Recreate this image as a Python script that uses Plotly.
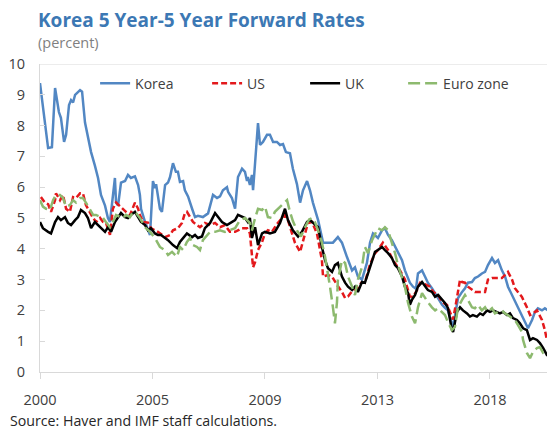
import plotly.graph_objects as go

# observation index (50 obs between labelled ticks)
TICK_POS = [0, 50, 100, 150, 200]
TICK_TEXT = ["2000", "2005", "2009", "2013", "2018"]

korea_x = [0, 3.6, 5.3, 6.7, 8.4, 9.3, 10.7, 11.6, 12.9, 13.8, 14.7, 15.6, 17.8, 18.7, 20, 21.3, 22.7, 24.4,
           25.8, 27.1, 28.9, 30.2, 31.1, 33.3, 33.8, 34.7, 36, 37.8, 39.1, 40.4, 42.2, 43.6, 44.4, 44.9, 46.7,
           48.9, 50.2, 51.1, 51.6, 53.3, 54.2, 55.6, 56.9, 57.8, 59.1, 60.4, 61.3, 62.2, 63.6, 64.4, 65.8, 67.6,
           68.9, 70.2, 72.4, 74.7, 76.9, 78.7, 80, 81.3, 83.1, 83.6, 85.3, 86.7, 88, 89.8, 91.1, 92, 92.4, 93.3,
           94.2, 94.7, 96.9, 97.8, 99.1, 100.9, 102.2, 103.6, 105.3, 106.7, 108, 109.3, 111.1, 112.4, 114.2,
           115.6, 116.9, 118.7, 120, 121.3, 123.6, 125.8, 127.6, 130.2, 132.4, 134.2, 136.4, 138.7, 140, 141.3,
           143.1, 145.3, 146.7, 148, 150.2, 152, 153.3, 154.7, 156.4, 158.7, 160.9, 162.2, 164.4, 165.8, 167.1,
           168, 169.8, 171.1, 172.4, 174.2, 175.6, 176.9, 178.7, 180, 181.3, 183.1, 183.6, 184.4, 185.8, 187.6,
           188.9, 190.2, 192, 193.3, 194.7, 196.4, 197.8, 199.1, 200.9, 202.2, 203.6, 205.3, 206.7, 208, 209.8,
           211.1, 212.4, 214.2, 215.6, 216.9, 218.7, 220, 221.3, 223.1, 224.4, 225.8, 228]
korea_y = [9.38, 7.27, 7.3, 9.22, 8.44, 8.25, 7.47, 7.7, 8.67, 8.83, 8.75, 9.0, 9.15, 9.1, 8.1, 7.6, 7.14, 6.7,
           6.3, 5.75, 5.4, 5.0, 4.87, 6.3, 5.5, 5.4, 6.15, 6.2, 6.4, 6.3, 6.35, 6.07, 5.75, 5.3, 4.87,
           4.45, 6.2, 5.97, 6.1, 5.3, 5.2, 6.07, 6.15, 6.33, 6.78, 6.5, 6.5, 6.17, 6.2, 5.9, 5.7, 5.3,
           5.03, 5.07, 5.03, 5.15, 5.75, 5.65, 5.7, 5.9, 6.0, 5.85, 5.65, 5.3, 6.33, 6.6, 6.5, 6.2, 6.33, 6.07,
           6.4, 5.9, 8.08, 7.37, 7.47, 7.7, 7.7, 7.47, 7.47, 7.37, 7.4, 7.14, 7.1, 6.6, 6.1,
           5.5, 5.9, 6.2, 5.9, 5.5, 4.93, 4.2, 4.2, 4.2, 4.38, 4.2, 3.74, 3.3, 3.4, 3.1,
           3.0, 3.54, 4.2, 4.5, 4.35, 4.6, 4.67, 4.45, 4.28, 3.96, 3.63, 3.3, 2.9, 2.77, 2.7,
           3.2, 3.3, 3.1, 2.9, 2.72, 2.56, 2.4, 2.18, 2.08, 2.0, 1.58, 1.42, 1.8, 2.4, 2.6,
           2.72, 2.9, 2.92, 3.05, 3.1, 3.2, 3.25, 3.47, 3.7, 3.54, 3.63, 3.3, 3.1, 2.77, 2.5,
           2.27, 2.07, 1.85, 1.62, 1.42, 1.69, 1.95, 2.07, 2.0, 2.07, 2.0, 2.05]

us_x = [0.4, 2.2, 3.6, 4.9, 6.7, 7.1, 8.9, 10.2, 11.6, 13.3, 14.7, 16, 17.8, 19.1, 20.4, 22.2, 23.6, 24.9, 26.7,
        28, 29.3, 31.1, 32.4, 33.8, 35.6, 36.9, 38.2, 40, 41.3, 42.2, 43.6, 44.4, 45.8, 48, 49.3, 52.4, 55.6,
        57.8, 59.1, 61.3, 63.1, 64.4, 65.3, 66.7, 68, 69.8, 71.1, 73.3, 75.6, 77.8, 80, 82.2, 84.4, 86.7, 89.8,
        92, 93.3, 94.7, 95.6, 96.9, 98.7, 100, 101.3, 103.1, 105.3, 107.6, 108.9, 110.2, 112, 113.3, 115.6,
        116.9, 119.1, 120.9, 123.1, 125.3, 125.8, 128, 129.8, 132, 134.2, 135.6, 136.9, 139.1, 140.9, 143.1,
        144.4, 146.7, 148.9, 150.2, 152.4, 154.7, 156.9, 160, 162.2, 164.4, 165.8, 167.6, 168.9, 171.1, 173.3,
        174.7, 176.9, 178.7, 180.9, 182.2, 183.6, 185.3, 186.7, 187.6, 188.9, 190.2, 192, 193.3, 195.6, 197.8,
        199.1, 200.9, 203.1, 205.3, 206.7, 208, 209.8, 211.1, 212.4, 214.2, 216.4, 217.8, 219.1, 220.9, 223.1,
        224.4, 225.3, 226.7, 228]
us_y = [5.68, 5.5, 5.45, 5.2, 5.58, 5.8, 5.58, 5.75, 5.3, 5.2, 5.68, 5.65, 5.8, 5.8, 5.42, 5.16, 5.0, 4.87, 5.0,
        4.87, 4.85, 4.45, 5.3, 5.5, 5.37, 5.26, 5.2, 5.1, 5.37, 5.5, 5.3, 5.1, 4.87, 4.85, 4.67, 4.55, 4.38,
        4.45, 4.6, 4.67, 4.84, 5.16, 5.2, 5.03, 4.87, 4.77, 4.7, 4.84, 4.77, 4.84, 4.7, 4.77, 4.55, 4.55, 4.67,
        4.67, 4.5, 3.4, 3.57, 3.96, 4.22, 4.5, 4.6, 4.55, 4.8, 5.0, 5.1, 4.93, 4.5, 4.2, 3.9,
        4.28, 4.84, 4.87, 4.5, 3.63, 3.1, 3.15, 3.1, 2.83, 2.6, 2.4, 2.45, 2.66, 2.72, 2.92,
        2.9, 3.5, 3.85, 3.96, 4.2, 3.96, 3.63, 3.3, 3.0, 2.45, 2.44, 2.66, 2.9, 2.85, 2.77,
        2.6, 2.5, 2.27, 2.18, 1.95, 1.7, 2.4, 3.0, 2.92, 2.9, 2.77, 2.66, 2.6, 2.6, 2.6,
        3.0, 3.05, 3.05, 3.05, 3.15, 3.25, 3.0, 2.72, 2.6, 2.44, 2.1, 1.85, 1.9, 2.0, 1.69,
        1.36, 1.04, 1.1, 1.2]

uk_x = [0, 1.3, 3.6, 4.9, 6.7, 8, 9.3, 11.1, 12.4, 13.8, 15.6, 16.9, 18.2, 20, 21.3, 22.7, 24.4, 25.8, 27.1,
        28.9, 30.2, 31.6, 33.3, 34.7, 36, 37.8, 39.1, 40.4, 42.2, 43.6, 44.9, 46.7, 48, 49.3, 51.1, 52.4, 53.8,
        55.6, 56.9, 59.1, 60.9, 62.2, 63.6, 65.3, 67.6, 68.9, 70.2, 72, 73.3, 75.6, 77.8, 79.1, 80.9, 83.1,
        85.3, 86.7, 88, 89.8, 91.1, 92.4, 93.3, 94.2, 95.6, 96.9, 98.7, 100, 102.2, 104.4, 106.7, 108.9, 110.2,
        112.4, 114.7, 116.4, 118.7, 120, 122.2, 123.6, 125.3, 126.7, 128, 129.8, 131.1, 132.4, 134.2, 135.6,
        136.9, 138.7, 140, 141.3, 143.1, 144.4, 145.8, 147.6, 148.9, 150.2, 152, 153.3, 154.7, 156.4, 157.8,
        159.1, 160.9, 162.2, 163.6, 164.4, 165.3, 166.7, 168, 169.8, 171.1, 172.4, 174.2, 175.6, 176.9, 178.7,
        180, 181.3, 182.2, 183.1, 183.6, 184.4, 185.3, 186.7, 188, 189.8, 191.1, 192.4, 194.2, 195.6, 196.9,
        198.7, 200, 201.3, 203.1, 204.4, 205.8, 207.6, 208.9, 210.2, 212, 213.3, 214.7, 216.4, 217.8, 219.1,
        220.9, 222.2, 223.6, 225.3, 226.7, 228]
uk_y = [4.87, 4.67, 4.55, 4.5, 4.87, 5.03, 4.93, 5.03, 4.84, 4.77, 4.93, 5.03, 5.26, 5.16, 5.0, 4.67, 4.87, 4.77, 4.7,
        4.55, 4.7, 4.55, 4.87, 5.0, 5.16, 5.03, 5.0, 5.1, 5.2, 5.03, 4.87, 4.77, 4.6, 4.67, 4.5, 4.45, 4.45,
        4.35, 4.28, 4.12, 4.02, 4.22, 4.35, 4.5, 4.38, 4.45, 4.35, 4.4, 4.67, 4.84, 5.16, 5.03, 4.87, 4.77,
        4.87, 4.93, 5.1, 5.03, 5.0, 4.87, 5.0, 4.35, 4.7, 4.12, 4.5, 4.55, 4.5, 4.55, 4.84, 5.3, 4.93,
        4.6, 4.4, 4.55, 4.87, 4.93, 4.77, 4.7, 4.06, 3.63, 3.37, 3.25, 3.47, 3.54, 3.1, 2.9,
        2.77, 2.66, 2.77, 2.6, 2.92, 2.9, 3.2, 3.63, 3.9, 3.96, 4.06, 3.96, 3.86, 3.7, 3.47,
        3.37, 3.1, 2.77, 2.56, 2.18, 2.34, 2.5, 2.77, 2.92, 2.77, 2.66, 2.6, 2.44, 2.5, 2.34,
        2.24, 2.08, 1.69, 1.36, 1.3, 1.58, 1.95, 2.1, 2.0, 1.9, 1.8, 1.85, 1.8, 1.9, 1.85,
        2.0, 1.95, 2.0, 1.95, 1.9, 1.95, 1.85, 1.9, 1.75, 1.69, 1.58, 1.42, 1.36, 1.04, 1.1,
        1.04, 0.94, 0.78, 0.55, 0.5, 0.55]

euro_x = [0, 1.3, 2.7, 4.4, 5.8, 7.1, 8.9, 10.2, 11.6, 13.3, 14.7, 16, 17.8, 19.1, 20.4, 22.2, 23.6, 24.9, 26.7,
          28, 29.3, 31.1, 32.4, 33.8, 35.6, 36.9, 38.2, 40, 41.3, 42.7, 44.4, 46.7, 48.9, 51.1, 53.3, 55.6, 56.9,
          58.7, 60.9, 62.2, 63.6, 65.3, 66.7, 68, 69.8, 71.1, 72.4, 74.2, 75.6, 77.8, 80, 82.2, 84.4, 86.7, 88.9,
          91.1, 93.3, 94.2, 95.6, 96.9, 98.7, 100, 101.3, 103.1, 104.4, 106.7, 108, 109.8, 111.1, 112.4, 114.2,
          116, 117.8, 119.6, 120.9, 122.2, 123.6, 125.3, 126.7, 128, 128.9, 130.2, 131.1, 132, 132.4, 133.3,
          134.2, 135.6, 136.9, 138.7, 140, 141.3, 143.1, 144.4, 145.8, 147.6, 148.9, 150.2, 152, 153.3, 154.7,
          156.4, 157.8, 159.1, 160.9, 162.2, 163.6, 165.3, 166.7, 168, 169.8, 171.1, 172.4, 174.2, 175.6, 176.9,
          178.7, 180, 181.3, 183.1, 184.4, 185.8, 187.6, 188.9, 190.2, 192, 193.3, 194.7, 196.4, 197.8, 199.1,
          200.9, 202.2, 203.6, 205.3, 206.7, 208, 209.8, 211.1, 212.4, 214.2, 214.7, 216.4, 217.8, 219.1, 220.9,
          222.2, 223.6, 225.3, 226.7, 228]
euro_y = [5.58, 5.37, 5.3, 5.26, 5.58, 5.75, 5.75, 5.65, 5.37, 5.42, 5.58, 5.5, 5.65, 5.65, 5.5, 5.26, 5.1, 5.1, 5.03,
          5.0, 4.87, 4.7, 4.87, 5.1, 5.03, 5.0, 5.1, 5.03, 5.2, 5.16, 5.0, 4.7, 4.55, 4.35, 4.06, 3.95, 3.8,
          3.9, 3.74, 4.06, 3.96, 4.22, 4.35, 4.12, 4.06, 3.96, 4.28, 4.45, 4.55, 4.55, 4.6, 4.55, 4.6, 4.67, 4.93,
          5.0, 4.84, 4.6, 5.0, 5.3, 5.26, 5.37, 5.03, 5.0, 5.2, 5.37, 5.45, 5.58, 5.2, 4.9, 4.6,
          4.4, 4.7, 4.95, 5.0, 4.87, 4.6, 4.2, 3.74, 3.2, 2.77, 2.1, 1.58, 2.27, 3.0, 3.3,
          3.63, 3.54, 3.1, 2.77, 2.5, 3.0, 3.4, 4.06, 3.86, 4.28, 4.5, 4.67, 4.6, 4.7, 4.6,
          4.22, 3.86, 3.47, 3.1, 2.77, 2.24, 1.8, 1.58, 2.1, 2.56, 2.4, 2.27, 2.1, 2.0, 2.07,
          1.95, 1.85, 1.62, 1.36, 1.46, 2.1, 2.34, 2.5, 2.34, 2.1, 2.07, 2.18, 2.0, 2.1, 1.95,
          2.07, 1.9, 1.95, 2.0, 1.9, 1.85, 1.75, 1.69, 1.53, 1.3, 1.04, 0.62, 0.45, 0.65, 0.78,
          0.81, 0.62, 0.65, 0.81, 0.71]

FONT = "Open Sans, Noto Sans, sans-serif"
AXIS_GREY = "#D9D9D9"
TEXT = "#404040"

fig = go.Figure()
fig.add_trace(go.Scatter(x=korea_x, y=korea_y, name="Korea", mode="lines", legendwidth=67,
                         line=dict(color="#5287C3", width=2.5)))
fig.add_trace(go.Scatter(x=us_x, y=us_y, name="US", mode="lines", legendwidth=53,
                         line=dict(color="#E3191C", width=2.5, dash="6px,3px")))
fig.add_trace(go.Scatter(x=uk_x, y=uk_y, name="UK", mode="lines", legendwidth=53,
                         line=dict(color="#000000", width=2.5)))
fig.add_trace(go.Scatter(x=euro_x, y=euro_y, name="Euro zone", mode="lines", legendwidth=70,
                         line=dict(color="#8DBA6F", width=2.5, dash="12px,5px")))

# top border of the plot area
fig.add_shape(type="line", xref="paper", yref="y", x0=0, x1=1, y0=10, y1=10,
              line=dict(color=AXIS_GREY, width=1))

# page body adds an 8px offset, so the figure is 8px smaller than the window
fig.update_layout(
    width=547, height=423,
    margin=dict(l=32, r=0, t=56, b=59, autoexpand=False),
    paper_bgcolor="white", plot_bgcolor="white",
    font=dict(family=FONT, size=14, color=TEXT),
    showlegend=True,
    legend=dict(orientation="h", x=0.107, y=0.988, xanchor="left", yanchor="top",
                font=dict(size=14, color=TEXT), bgcolor="rgba(0,0,0,0)", tracegroupgap=0),
    annotations=[
        dict(text="<b>Korea 5 Year-5 Year Forward Rates</b>", xref="paper", yref="paper",
             x=-0.008, y=1.143, xanchor="left", yanchor="middle", showarrow=False,
             font=dict(size=19, color="#3C78B4", family=FONT)),
        dict(text="(percent)", xref="paper", yref="paper", x=-0.008, y=1.071,
             xanchor="left", yanchor="middle", showarrow=False,
             font=dict(size=14.5, color="#7F7F7F", family=FONT)),
        dict(text="Source: Haver and IMF staff calculations.", xref="paper", yref="paper",
             x=-0.062, y=-0.157, xanchor="left", yanchor="middle", showarrow=False,
             font=dict(size=14.2, color="#262626", family=FONT)),
    ],
)

fig.update_xaxes(range=[0, 228.9], tickvals=TICK_POS, ticktext=TICK_TEXT, automargin=False,
                 showgrid=False, zeroline=False, showline=True, linecolor=AXIS_GREY, linewidth=1,
                 ticks="outside", ticklen=6, tickcolor=AXIS_GREY, ticklabelstandoff=9,
                 tickfont=dict(size=14.5, color=TEXT))
fig.update_yaxes(range=[0, 10], dtick=1, showgrid=False, zeroline=False, automargin=False,
                 showline=True, linecolor=AXIS_GREY, linewidth=1,
                 ticks="inside", ticklen=5, tickcolor=AXIS_GREY, ticklabelstandoff=11,
                 tickfont=dict(size=14.5, color=TEXT))

fig.write_html("out.html")
